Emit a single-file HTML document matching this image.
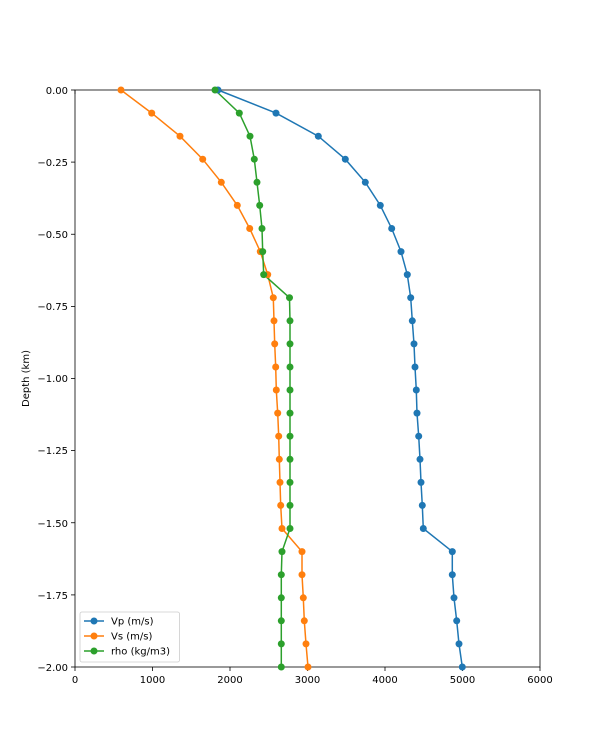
<!DOCTYPE html>
<html><head><meta charset="utf-8"><style>body{margin:0;background:#fff}svg{display:block}text{font-family:"DejaVu Sans","Liberation Sans",sans-serif;font-size:10px;fill:#000}</style></head>
<body>
<svg width="600" height="750" xmlns="http://www.w3.org/2000/svg">
<g stroke="#000" stroke-width="0.8">
<line x1="75" y1="90" x2="75" y2="94"/>
</g>
<g id="ticks" stroke="#000" stroke-width="0.8">
<line x1="75" y1="667" x2="75" y2="671"/><line x1="152.5" y1="667" x2="152.5" y2="671"/><line x1="230" y1="667" x2="230" y2="671"/><line x1="307.5" y1="667" x2="307.5" y2="671"/><line x1="385" y1="667" x2="385" y2="671"/><line x1="462.5" y1="667" x2="462.5" y2="671"/><line x1="540" y1="667" x2="540" y2="671"/>
<line x1="71" y1="90" x2="75" y2="90"/><line x1="71" y1="162.1" x2="75" y2="162.1"/><line x1="71" y1="234.25" x2="75" y2="234.25"/><line x1="71" y1="306.4" x2="75" y2="306.4"/><line x1="71" y1="378.5" x2="75" y2="378.5"/><line x1="71" y1="450.6" x2="75" y2="450.6"/><line x1="71" y1="522.75" x2="75" y2="522.75"/><line x1="71" y1="594.9" x2="75" y2="594.9"/><line x1="71" y1="667" x2="75" y2="667"/>
</g>
<g text-anchor="middle">
<text x="75" y="683">0</text><text x="152.5" y="683">1000</text><text x="230" y="683">2000</text><text x="307.5" y="683">3000</text><text x="385" y="683">4000</text><text x="462.5" y="683">5000</text><text x="540" y="683">6000</text>
</g>
<g text-anchor="end">
<text x="68" y="94">0.00</text><text x="68" y="166">−0.25</text><text x="68" y="238">−0.50</text><text x="68" y="310">−0.75</text><text x="68" y="382">−1.00</text><text x="68" y="454">−1.25</text><text x="68" y="527">−1.50</text><text x="68" y="599">−1.75</text><text x="68" y="671">−2.00</text>
</g>
<text transform="translate(29,378.5) rotate(-90)" text-anchor="middle">Depth (km)</text>
<g fill="none" stroke-width="1.5">
<polyline id="vp" stroke="#1f77b4" points="218,90 276,113.1 318.3,136.2 345.3,159.2 365.3,182.3 380.3,205.4 391.7,228.5 401,251.6 407.3,274.6 410.7,297.7 412.3,320.8 414,343.9 415,367 416.3,390 417,413.1 418.7,436.2 420,459.3 421,482.4 422.3,505.4 423.3,528.5 452.3,551.6 452.3,574.7 454,597.8 456.7,620.8 459,643.9 462.3,667"/>
<polyline id="vs" stroke="#ff7f0e" points="121,90 151.7,113.1 180,136.2 202.7,159.2 221.3,182.3 237.3,205.4 249.7,228.5 260.3,251.6 267.7,274.6 273.3,297.7 274,320.8 274.7,343.9 275.7,367 276.3,390 277.7,413.1 278.7,436.2 279.3,459.3 280,482.4 280.7,505.4 282,528.5 302,551.6 302,574.7 303.3,597.8 304.3,620.8 306,643.9 308,667"/>
<polyline id="rho" stroke="#2ca02c" points="215,90 239.3,113.1 250,136.2 254.3,159.2 257,182.3 259.7,205.4 262,228.5 262.7,251.6 263.7,274.6 289.5,297.7 290,320.8 290,343.9 290,367 290,390 290,413.1 290,436.2 290,459.3 290,482.4 290,505.4 290,528.5 282,551.6 281.3,574.7 281.3,597.8 281.3,620.8 281.3,643.9 281.3,667"/>
</g>
<rect x="75" y="90" width="465" height="577" fill="none" stroke="#000" stroke-width="0.8"/>
<g fill="#fff" stroke="#ccc" stroke-width="0.8"><rect x="80" y="612" width="99.5" height="50" rx="2"/></g>
<line x1="84" y1="621" x2="104" y2="621" stroke="#1f77b4" stroke-width="1.5"/><circle cx="94" cy="621" r="3.5" fill="#1f77b4"/><text x="111" y="624.5">Vp (m/s)</text>
<line x1="84" y1="636" x2="104" y2="636" stroke="#ff7f0e" stroke-width="1.5"/><circle cx="94" cy="636" r="3.5" fill="#ff7f0e"/><text x="111" y="639.5">Vs (m/s)</text>
<line x1="84" y1="651" x2="104" y2="651" stroke="#2ca02c" stroke-width="1.5"/><circle cx="94" cy="651" r="3.5" fill="#2ca02c"/><text x="111" y="654.5">rho (kg/m3)</text>
<script>
</script>
</svg>
<script>
(function(){var svg=document.querySelector('svg');var ns='http://www.w3.org/2000/svg';var leg=svg.querySelector('rect[rx]');
[['vp','#1f77b4'],['vs','#ff7f0e'],['rho','#2ca02c']].forEach(function(s){var pl=document.getElementById(s[0]);var pts=pl.getAttribute('points').trim().split(/\s+/);pts.forEach(function(p){var xy=p.split(',');var c=document.createElementNS(ns,'circle');c.setAttribute('cx',xy[0]);c.setAttribute('cy',xy[1]);c.setAttribute('r','3.5');c.setAttribute('fill',s[1]);svg.insertBefore(c,leg.parentNode);});});})();
</script>
</body></html>
